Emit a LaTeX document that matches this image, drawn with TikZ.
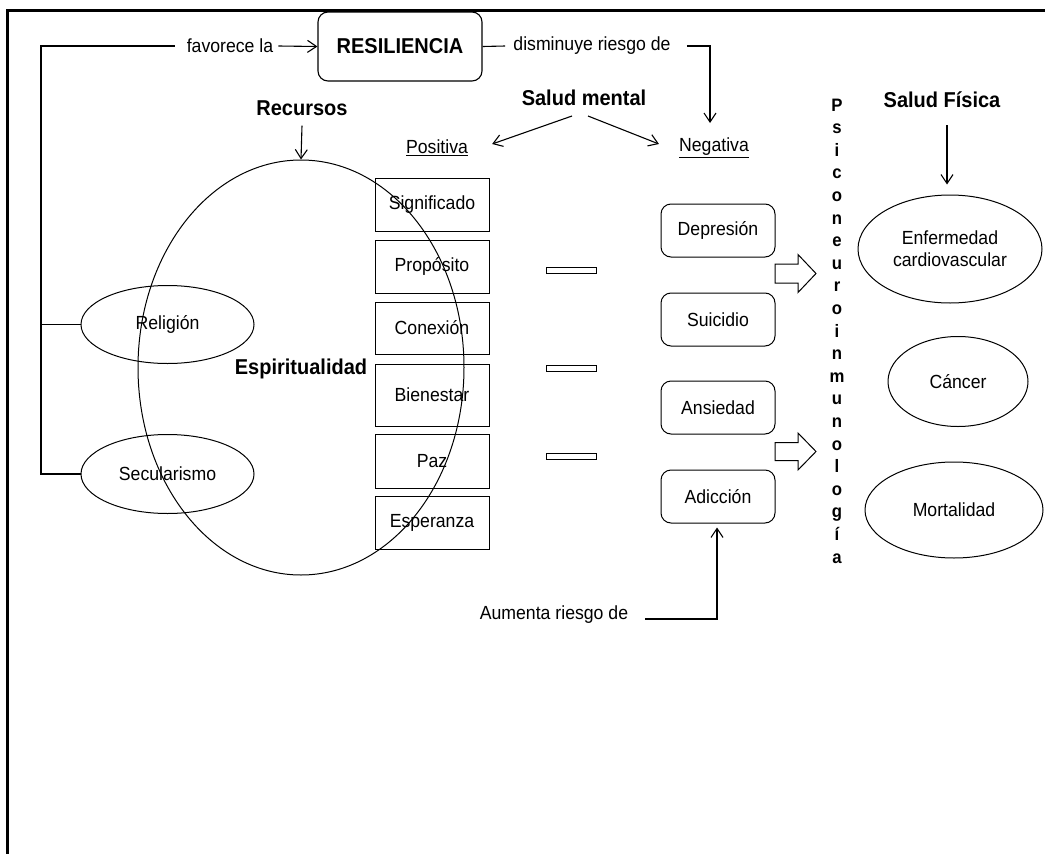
\documentclass[tikz,border=0pt]{standalone}
\usepackage{fontspec}
\setmainfont{Liberation Sans}[FakeStretch=0.93]
\usetikzlibrary{arrows.meta,calc,shapes.geometric}
\begin{document}
\begin{tikzpicture}[x=1pt,y=-1pt,
  every node/.style={font=\fontsize{19}{22}\selectfont,inner sep=0pt},
  hd/.style={font=\bfseries\fontsize{21.5}{25}\selectfont},
  pbox/.style={draw,line width=1pt,minimum width=114pt},
  nbox/.style={draw,line width=1pt,rounded corners=10pt,minimum width=114pt,minimum height=53pt},
  ell/.style={draw,ellipse,line width=1pt},
  bar/.style={draw,line width=1pt,minimum width=50pt,minimum height=6pt},
  arr/.style={-{Straight Barb[length=9pt,width=12pt]},line width=1.1pt},
  ln/.style={line width=1.1pt},
  brk/.style={line width=1.8pt},
  blk/.style={draw,line width=1pt,line join=miter},
]
\useasboundingbox (0,0) rectangle (1045,854);
% frame
\draw[line width=3pt] (7,854) -- (7,10) -- (1045,10);

% top
\node[draw,line width=1.1pt,rounded corners=10pt,minimum width=164pt,minimum height=69pt,hd] (res) at (400,46.5) {RESILIENCIA};
\node (fav) at (230,46) {favorece la};
\node (dis) at (592,46) {disminuye riesgo de};

% headings
\node[hd] (rec) at (302,108) {Recursos};
\node[hd] (sm) at (584,98) {Salud mental};
\node[hd] (sf) at (942,100) {Salud Física};
\node (pos) at (437,148) {\underline{Positiva}};
\node (neg) at (714,148) {\underline{Negativa}};

% spirituality
\node[ell,minimum width=326pt,minimum height=415pt] (esp) at (301,367.5) {};
\node[hd] (espt) at (301,369) {Espiritualidad};
\node[ell,minimum width=173pt,minimum height=78pt] (rel) at (167.5,324.5) {Religión};
\node[ell,minimum width=173pt,minimum height=79pt] (sec) at (167.5,474) {Secularismo};

% positive boxes
\node[pbox,minimum height=53pt] (b1) at (432,204.5) {Significado};
\node[pbox,minimum height=53pt] (b2) at (432,266.5) {Propósito};
\node[pbox,minimum height=52pt] (b3) at (432,328) {Conexión};
\node[pbox,minimum height=62pt] (b4) at (432,395) {Bienestar};
\node[pbox,minimum height=54pt] (b5) at (432,461) {Paz};
\node[pbox,minimum height=53pt] (b6) at (432,522.5) {Esperanza};

% bars
\node[bar] (r1) at (571,270) {};
\node[bar] (r2) at (571,368) {};
\node[bar] (r3) at (571,456) {};

% negative boxes
\node[nbox] (n1) at (718,230.5) {Depresión};
\node[nbox] (n2) at (718,319.5) {Suicidio};
\node[nbox] (n3) at (718,407.5) {Ansiedad};
\node[nbox] (n4) at (718,496.5) {Adicción};

% block arrows
\coordinate (ba1) at (775,273.5);
\coordinate (ba2) at (775,451.5);
\draw[blk] ($(ba1)+(0,-9.5)$) -- ++(23,0) -- ++(0,-9.5) -- ++(18,19) -- ++(-18,19) -- ++(0,-9.5) -- ++(-23,0) -- cycle;
\draw[blk] ($(ba2)+(0,-9)$) -- ++(23,0) -- ++(0,-9.5) -- ++(18,18.5) -- ++(-18,18.5) -- ++(0,-9.5) -- ++(-23,0) -- cycle;

% vertical word
\node[font=\bfseries\fontsize{18}{22.6}\selectfont,align=center,anchor=north] (psi) at (837,98.5)
  {P\\s\\i\\c\\o\\n\\e\\u\\r\\o\\i\\n\\m\\u\\n\\o\\l\\o\\g\\í\\a};

% physical health
\node[ell,minimum width=184pt,minimum height=108pt,align=center,font=\fontsize{19}{22}\selectfont] (enf) at (950,249) {Enfermedad\\cardiovascular};
\node[ell,minimum width=140pt,minimum height=90pt] (can) at (958,381.5) {Cáncer};
\node[ell,minimum width=178pt,minimum height=96pt] (mor) at (954,510) {Mortalidad};

\node (aum) at (554,615) {Aumenta riesgo de};

% connectors
\coordinate (cTop) at (41,46);
\draw[ln] (rel.west) -- (rel.west -| cTop);
\draw[brk] (sec.west) -| (cTop) -- ($(fav.west)+(-12,0)$);
\draw[arr] ($(fav.east)+(5,0)$) -- (res.west);
\draw[ln] (res.east) -- ($(dis.west)+(-8,0)$);
\coordinate (negTip) at (710,123);
\draw[arr] ($(dis.east)+(16,0)$) -| (negTip);
\coordinate (smA) at (572,116);
\coordinate (smB) at (588,116);
\draw[arr] (smA) -- ($(pos.east)+(24,-4)$);
\draw[arr] (smB) -- ($(neg.west)+(-20,-4)$);
\draw[arr] ($(rec.south)+(0,10)$) -- (esp.north);
\coordinate (sfA) at (947,125);
\draw[arr] (sfA) -- (sfA |- {$(enf.north)+(0,-10)$});
\draw[arr] ($(aum.east)+(17,4)$) -| ($(n4.south)+(-1,4)$);
\end{tikzpicture}
\end{document}
